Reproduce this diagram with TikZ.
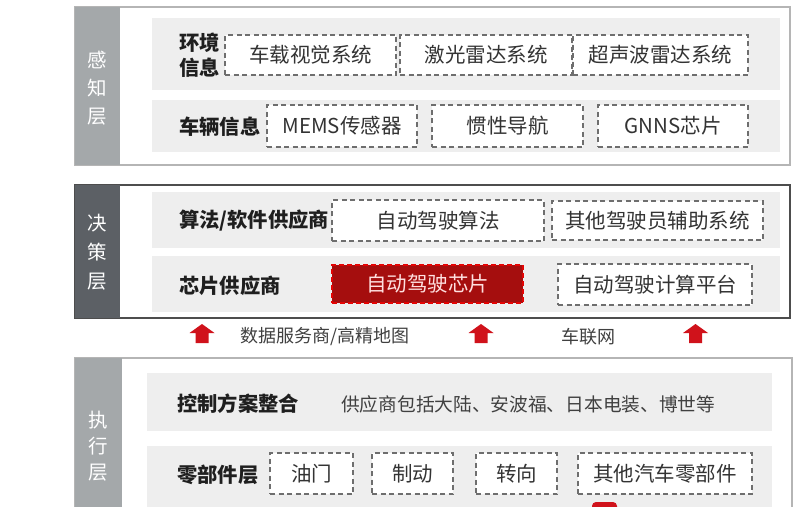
\documentclass[tikz,border=0pt]{standalone}
\usepackage{fontspec}
\setmainfont{Noto Sans CJK SC}
\definecolor{stripA}{HTML}{A4A8AA}
\definecolor{stripB}{HTML}{5C6065}
\definecolor{bandc}{HTML}{EEEEEE}
\definecolor{lightborder}{HTML}{B5B5B5}
\definecolor{darkborder}{HTML}{4D4D4D}
\definecolor{dashc}{HTML}{6E6E6E}
\definecolor{txt}{HTML}{333333}
\definecolor{chipred}{HTML}{A50E0E}
\definecolor{arrred}{HTML}{D0121B}
\tikzset{
  dbox/.style={draw=dashc, line width=1.4pt, dash pattern=on 5pt off 3.5pt, fill=white,
    inner sep=0pt, text=txt, font=\fontsize{20.5}{22}\selectfont},
  redbox/.style={draw=red!70!chipred, line width=1.2pt, dash pattern=on 5pt off 3pt, fill=chipred,
    inner sep=0pt, text=red!12!white, font=\fontsize{20.5}{22}\selectfont},
  lbl/.style={anchor=west, inner sep=0pt, text=black!88, font=\fontsize{20.3}{25}\selectfont\bfseries},
  side/.style={inner sep=0pt, text=white, align=center},
  band/.style={fill=bandc, draw=none},
  note/.style={inner sep=0pt, text=black!75, font=\fontsize{18}{20}\selectfont},
}
\newcommand{\upArrow}[2]{%
  \fill[arrred] (#1-6.5,343) -- (#1+6.5,343) -- (#1+6.5,333) -- (#1+12.5,333) -- (#1,#2) -- (#1-12.5,333) -- (#1-6.5,333) -- cycle;}
\begin{document}
\begin{tikzpicture}[x=1pt,y=-1pt]
\useasboundingbox (0,0) rectangle (800,506);
\clip (0,0) rectangle (800,506);
\fill[white] (0,0) rectangle (800,506);

% ---------- panel 1 ----------
\draw[lightborder, line width=1.5pt, fill=white] (75,7) rectangle (790,165);
\fill[stripA] (75,7) rectangle (120,165);
\fill[band] (152,18) rectangle (780,90);
\fill[band] (152,100) rectangle (780,152);
\node[side, font=\fontsize{19.5}{28}\selectfont] (s1) at (97.5,88) {感\\知\\层};
\node[lbl, align=left] (l11) at (179,55) {环境\\信息};
\node[dbox, minimum width=171pt, minimum height=40pt] (b11) at (310.5,55) {车载视觉系统};
\node[dbox, minimum width=172pt, minimum height=40pt] (b12) at (486,55) {激光雷达系统};
\node[dbox, minimum width=175pt, minimum height=40pt] (b13) at (660.5,55) {超声波雷达系统};
\node[lbl] (l12) at (179,127) {车辆信息};
\node[dbox, minimum width=150pt, minimum height=42pt] (b21) at (342,126) {MEMS传感器};
\node[dbox, minimum width=151pt, minimum height=42pt] (b22) at (507.5,126) {惯性导航};
\node[dbox, minimum width=150pt, minimum height=42pt] (b23) at (673,126) {GNNS芯片};

% ---------- panel 2 ----------
\draw[darkborder, line width=2pt, fill=white] (75,185) rectangle (790,318);
\fill[stripB] (75,185) rectangle (120,318);
\fill[band] (152,192) rectangle (780,248);
\fill[band] (152,256) rectangle (780,312);
\node[side, font=\fontsize{19.5}{29}\selectfont] (s2) at (97.5,252) {决\\策\\层};
\node[lbl] (l21) at (179,221) {算法/软件供应商};
\node[dbox, minimum width=212pt, minimum height=41pt] (c11) at (438,220.5) {自动驾驶算法};
\node[dbox, minimum width=211pt, minimum height=39pt] (c12) at (657.5,220.5) {其他驾驶员辅助系统};
\node[lbl] (l22) at (179,286) {芯片供应商};
\node[redbox, minimum width=191pt, minimum height=38pt] (c21) at (427.5,284) {自动驾驶芯片};
\node[dbox, minimum width=194pt, minimum height=41pt] (c22) at (655,284.5) {自动驾驶计算平台};

% ---------- arrows row ----------
\upArrow{202}{324}
\upArrow{481}{324}
\upArrow{695.5}{324}
\node[note] (t1) at (325,337) {数据服务商/高精地图};
\node[note] (t2) at (588,337) {车联网};

% ---------- panel 3 ----------
\draw[lightborder, line width=1.5pt, fill=white] (75,358) rectangle (792,520);
\fill[stripA] (75,358) rectangle (122,520);
\fill[band] (147,373) rectangle (772,431);
\fill[band] (147,446) rectangle (772,520);
\node[side, font=\fontsize{19.5}{26}\selectfont] (s3) at (98.5,446) {执\\行\\层};
\node[lbl] (l31) at (177,404) {控制方案整合};
\node[note, anchor=west, font=\fontsize{18.7}{20}\selectfont] (t3) at (341,404) {供应商包括大陆、安波福、日本电装、博世等};
\node[lbl] (l32) at (177,475) {零部件层};
\node[dbox, minimum width=83pt, minimum height=41pt] (d1) at (311.5,473.5) {油门};
\node[dbox, minimum width=81pt, minimum height=41pt] (d2) at (412.5,473.5) {制动};
\node[dbox, minimum width=81pt, minimum height=41pt] (d3) at (516.5,473.5) {转向};
\node[dbox, minimum width=174pt, minimum height=41pt] (d4) at (665,473.5) {其他汽车零部件};
\fill[arrred, rounded corners=4pt] (592,502) rectangle (617,515);
\end{tikzpicture}
\end{document}
